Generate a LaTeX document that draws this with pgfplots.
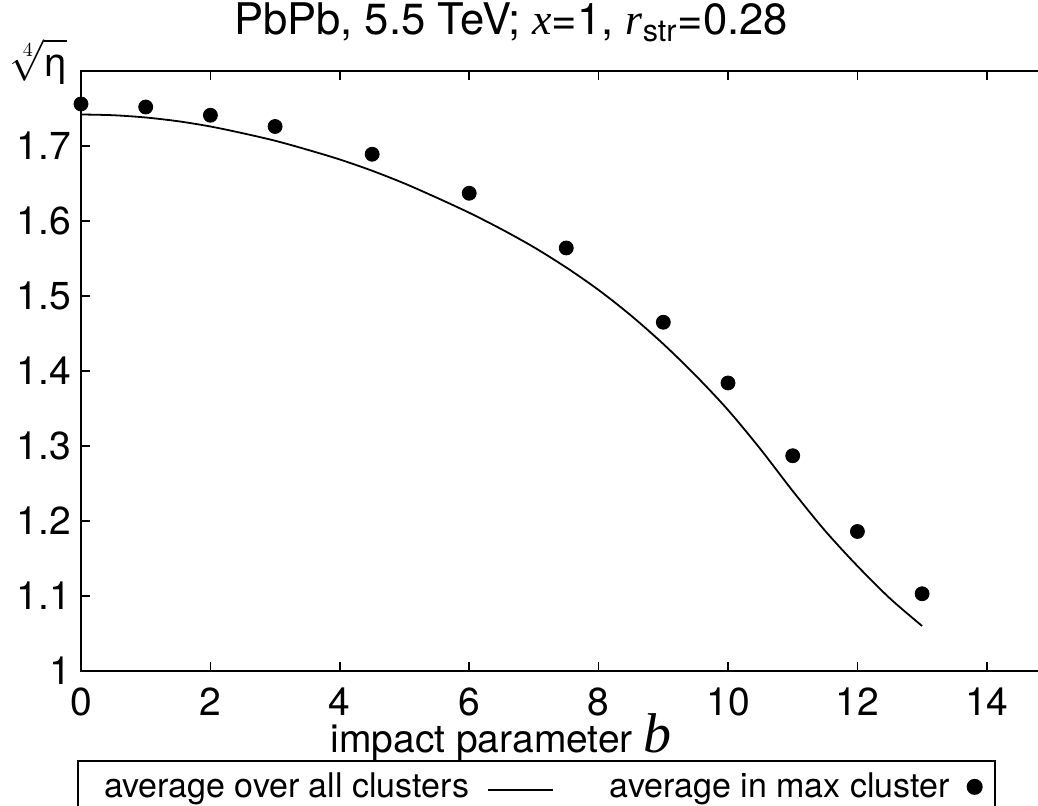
\documentclass[border=0pt]{standalone}
\usepackage{exscale}
\usepackage{fontspec}
\setmainfont{TeX Gyre Heros}
\newfontfamily\serif{Liberation Serif}
\usepackage{pgfplots}
\pgfplotsset{compat=1.18}
\pgfplotsset{
  mylineleg/.style={legend image code/.code={\draw[##1] (0pt,-1.5pt) -- (32.5pt,-1.5pt);}},
  mymarkleg/.style={legend image code/.code={\draw[##1] plot coordinates {(0pt,0pt)};}},
}

\begin{document}
\begin{tikzpicture}
\begin{axis}[
  at={(0pt,0pt)}, anchor=south west,
  x=32.35pt, y=375pt,
  xmin=0, xmax=15, ymin=1, ymax=1.8,
  xtick={0,2,4,6,8,10,12,14},
  ytick={1,1.1,1.2,1.3,1.4,1.5,1.6,1.7},
  yticklabels={1,1.1,1.2,1.3,1.4,1.5,1.6,1.7},
  xtick pos=both, ytick pos=left,
  tick align=inside,
  major tick length=4.5pt,
  axis line style={line width=1.2pt},
  every tick/.style={black, line width=0.8pt},
  /pgf/number format/assume math mode=true,
  tick label style={font=\fontsize{19.5}{22}\selectfont, inner sep=0pt},
  xticklabel style={yshift=-8pt},
  yticklabel style={xshift=-4.75pt},
  legend columns=2,
  legend plot pos=right,
  legend style={at={(axis description cs:-0.0041,-0.1483)}, anchor=north west,
    font=\fontsize{17}{20}\selectfont, draw=black, line width=1pt,
    inner xsep=6.5pt, inner ysep=6pt,
    nodes={inner sep=0pt},
    /tikz/every odd column/.append style={column sep=9pt},
    /tikz/every even column/.append style={column sep=28pt},
    /tikz/column 3/.append style={column sep=4pt}},
]
\addplot[black, line width=0.9pt, smooth, mylineleg] coordinates {
(0,1.742) (0.5,1.741) (1.0,1.738) (1.5,1.733) (2.0,1.726) (2.5,1.717)
(3.0,1.707) (3.5,1.695) (4.0,1.682) (4.5,1.667) (5.0,1.650) (5.5,1.631)
(6.0,1.611) (6.5,1.589) (7.0,1.565) (7.5,1.538) (8.0,1.508) (8.5,1.474)
(9.0,1.436) (9.5,1.394) (10.0,1.348) (10.5,1.296) (11.0,1.240) (11.5,1.187)
(12.0,1.140) (12.5,1.097) (13.0,1.060)
};
\addlegendentry{\hspace*{6.5pt}average over all clusters}
\addplot[black, only marks, mark=*, mark size=3.5pt, mymarkleg] coordinates {
(0,1.756) (1,1.752) (2,1.741) (3,1.726) (4.5,1.689) (6,1.637)
(7.5,1.564) (9,1.465) (10,1.384) (11,1.287) (12,1.186) (13,1.103)
};
\addlegendentry{average in max cluster}
\end{axis}
\node[anchor=base, inner sep=0pt, font=\fontsize{21.8}{25}\selectfont] at (215pt,318pt)
  {PbPb, 5.5 TeV; {\serif\itshape x}=1, {\serif\itshape r}\textsubscript{str}=0.28};
\node[anchor=base west, inner sep=0pt, font=\fontsize{19.5}{22}\selectfont] at (124.5pt,-41pt)
  {impact parameter {\fontsize{28}{30}\selectfont\serif\itshape b}};
\node[anchor=base, inner sep=0pt] at (-21pt,297pt)
  {\fontsize{20}{24}\selectfont$\sqrt[4]{\vphantom{A}\smash{\mbox{η}}}$};
\pgfresetboundingbox
\useasboundingbox (-40.5pt,-67.5pt) rectangle (478.5pt,335.5pt);
\end{tikzpicture}
\end{document}
